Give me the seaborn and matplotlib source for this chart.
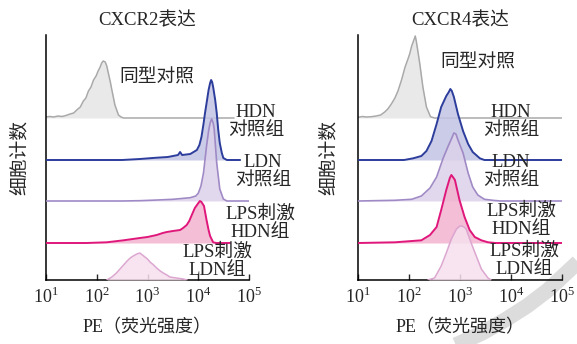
import numpy as np
import matplotlib.pyplot as plt
import seaborn as sns
from matplotlib.lines import Line2D

# ---- data: log10(PE) positions and cell counts ----
# CXCR2 panel
cxcr2_iso_x = [1.00, 1.08, 1.16, 1.24, 1.32, 1.40, 1.48, 1.55, 1.61, 1.68, 1.74, 1.79, 1.84, 1.89, 1.94,
               1.99, 2.03, 2.07, 2.10, 2.13, 2.17, 2.20, 2.23, 2.27, 2.30, 2.36, 2.43, 2.48, 2.53, 4.70]
cxcr2_iso_y = [1, 1.5, 1, 2, 1.5, 2.5, 4, 5, 8, 11, 17, 20, 27, 31, 38,
               42, 47, 51, 55, 57, 56, 52, 45, 36, 28, 13, 3, 1, 0, 0]

cxcr2_hdn_x = [1.00, 2.50, 2.85, 3.18, 3.40, 3.50, 3.60, 3.64, 3.68, 3.84, 3.97, 4.02, 4.06, 4.10, 4.13,
               4.17, 4.20, 4.23, 4.25, 4.27, 4.29, 4.33, 4.36, 4.39, 4.42, 4.46, 4.49, 4.56, 4.82]
cxcr2_hdn_y = [0, 0, 1, 2.3, 3, 4, 5, 8, 5, 6, 10, 15, 23, 36, 47,
               60, 70, 77, 80, 78, 73, 60, 47, 30, 17, 7, 2, 0, 0]

cxcr2_ldn_x = [1.00, 2.50, 2.85, 3.20, 3.50, 3.84, 3.95, 4.00, 4.05, 4.10, 4.16, 4.20, 4.23, 4.26, 4.29,
               4.31, 4.36, 4.42, 4.49, 4.56, 5.00]
cxcr2_ldn_y = [0, 0, 0.3, 1, 1.7, 3.3, 5, 8, 15, 28, 55, 70, 78, 82, 78,
               72, 38, 12, 2, 0, 0]

cxcr2_lps_hdn_x = [1.00, 1.80, 2.20, 2.53, 2.85, 3.00, 3.18, 3.30, 3.38, 3.50, 3.64, 3.70, 3.77, 3.82, 3.87,
                   3.93, 4.00, 4.03, 4.06, 4.11, 4.16, 4.20, 4.23, 4.29, 4.35, 4.62]
cxcr2_lps_hdn_y = [0, 0, 0.7, 2.7, 5, 6, 8, 10, 11, 12, 13, 15, 18, 22, 28,
                   35, 40, 42, 41, 37, 23, 13, 7, 0.7, 0, 0]

cxcr2_lps_ldn_x = [2.20, 2.30, 2.39, 2.46, 2.53, 2.60, 2.66, 2.72, 2.79, 2.85, 2.90, 2.95, 3.00, 3.05, 3.12,
                   3.18, 3.25, 3.31, 3.38, 3.44, 3.57, 3.70, 3.78]
cxcr2_lps_ldn_y = [0, 3, 7, 11, 15, 19, 22, 24, 26, 27, 25, 23, 21, 18, 15,
                   12, 9, 7, 5, 3, 2, 1, 0]

# CXCR4 panel
cxcr4_iso_x = [1.00, 1.08, 1.16, 1.26, 1.35, 1.44, 1.52, 1.58, 1.65, 1.72, 1.78, 1.85, 1.92, 1.97, 2.01,
               2.05, 2.10, 2.12, 2.14, 2.18, 2.21, 2.27, 2.34, 2.42, 2.50, 5.00]
cxcr4_iso_y = [0.7, 1.5, 1, 1.3, 2, 3, 6, 9, 14, 20, 27, 38, 51, 58, 64,
               72, 79, 82, 77, 64, 54, 31, 11, 1.3, 0, 0]

cxcr4_hdn_x = [1.00, 1.90, 2.08, 2.24, 2.34, 2.44, 2.54, 2.63, 2.73, 2.78, 2.81, 2.84, 2.88, 2.96, 3.06,
               3.16, 3.25, 3.39, 3.48, 5.00]
cxcr4_hdn_y = [0, 0, 1.7, 4, 9, 19, 36, 53, 64, 68, 71, 69, 63, 46, 29,
               16, 8, 1.7, 0, 0]

cxcr4_ldn_x = [1.00, 1.72, 2.05, 2.24, 2.41, 2.54, 2.67, 2.76, 2.83, 2.88, 2.92, 2.96, 3.06, 3.16, 3.25,
               3.35, 3.48, 3.68, 3.80, 5.00]
cxcr4_ldn_y = [0, 0.7, 1.7, 5, 13, 24, 43, 54, 62, 68, 67, 61, 48, 28, 14,
               6, 1.7, 0.5, 0, 0]

cxcr4_lps_hdn_x = [1.00, 1.72, 2.24, 2.41, 2.54, 2.63, 2.73, 2.80, 2.83, 2.86, 2.90, 2.99, 3.09, 3.19, 3.29,
                   3.42, 3.55, 3.70, 5.00]
cxcr4_lps_hdn_y = [0, 0.7, 2.7, 8, 16, 33, 53, 65, 68, 66, 63, 43, 26, 13, 6,
                   2.7, 0.7, 0, 0]

cxcr4_lps_ldn_x = [2.37, 2.50, 2.63, 2.73, 2.83, 2.93, 3.00, 3.03, 3.08, 3.12, 3.22, 3.32, 3.42, 3.55, 3.61]
cxcr4_lps_ldn_y = [0, 2, 14, 27, 41, 51, 54, 54, 53, 51, 37, 24, 11, 2, 0]

group_labels = ["同型对照", "HDN\n对照组", "LDN\n对照组", "LPS刺激\nHDN组", "LPS刺激\nLDN组"]
panel_titles = ["CXCR2表达", "CXCR4表达"]
tick_exps = [1, 2, 3, 4, 5]

# ---- styling / layout ----
line_colors = ["#a9a9a9", "#2c3d9c", "#a08ac6", "#e0177b", "#dca6d0"]
fill_colors = ["#e6e6e6", "#c2c3e3", "#dcd2ea", "#f1b3cf", "#f6e0ee"]
line_widths = [1.1, 1.4, 1.2, 1.4, 1.1]
stack_offsets = [162, 120, 79, 37, 0]   # baseline of each histogram in the stack

left_label_pos = [(3.19, 202), (5.13, 158), (5.27, 108), (5.21, 57), (4.37, 19)]
right_label_pos = [(3.35, 217), (4.00, 158), (4.00, 108), (4.20, 60), (4.27, 20)]

sns.set_style("ticks")
plt.rcParams['font.family'] = ['Liberation Serif', 'Noto Sans CJK SC']
plt.rcParams['mathtext.fontset'] = 'custom'
plt.rcParams['mathtext.rm'] = 'Liberation Serif'

fig = plt.figure(figsize=(5.77, 3.44), dpi=100)
ax_l = fig.add_axes([45.7 / 577, 64 / 344, 203.6 / 577, 245 / 344])
ax_r = fig.add_axes([358.3 / 577, 64 / 344, 203.4 / 577, 245 / 344])

# faint watermark stroke at bottom right of the original (pixel coords, y down)
wm_px = [(595, 246), (577, 263), (548, 290), (527, 306), (505, 320), (482, 333), (458, 344), (440, 352)]
fig.add_artist(Line2D([x / 577 for x, y in wm_px], [1 - y / 344 for x, y in wm_px],
                      transform=fig.transFigure, color='#dcdcdc', lw=11,
                      solid_capstyle='butt', solid_joinstyle='round', zorder=-5))

panels = [
    (ax_l, [(cxcr2_iso_x, cxcr2_iso_y), (cxcr2_hdn_x, cxcr2_hdn_y), (cxcr2_ldn_x, cxcr2_ldn_y),
            (cxcr2_lps_hdn_x, cxcr2_lps_hdn_y), (cxcr2_lps_ldn_x, cxcr2_lps_ldn_y)], left_label_pos, 12),
    (ax_r, [(cxcr4_iso_x, cxcr4_iso_y), (cxcr4_hdn_x, cxcr4_hdn_y), (cxcr4_ldn_x, cxcr4_ldn_y),
            (cxcr4_lps_hdn_x, cxcr4_lps_hdn_y), (cxcr4_lps_ldn_x, cxcr4_lps_ldn_y)], right_label_pos, 15),
]

for p, (ax, series, label_pos, ypad) in enumerate(panels):
    ax.set_xscale('log')
    ax.set_facecolor('none')
    for i, (lx, cnt) in enumerate(series):
        pe = 10 ** np.array(lx)
        top = stack_offsets[i] + np.array(cnt, dtype=float)
        ax.fill_between(pe, stack_offsets[i], top, color=fill_colors[i], alpha=0.85, lw=0, zorder=2 + i)
        sns.lineplot(x=pe, y=top, ax=ax, color=line_colors[i], linewidth=line_widths[i],
                     estimator=None, sort=False, zorder=2.5 + i)
    for i, (lx, ly) in enumerate(label_pos):
        ax.text(10 ** lx, ly, group_labels[i], ha='center', va='center', fontsize=13.5,
                linespacing=1.12, zorder=10)

    ax.set_xlim(10, 1e5)
    ax.set_ylim(0, 245)
    ax.set_yticks([])
    ax.set_xticks([10.0 ** e for e in tick_exps])
    ax.set_xticklabels([f"$10^{{{e}}}$" for e in tick_exps])
    ax.minorticks_off()
    ax.tick_params(axis='x', direction='in', length=4, width=1, pad=5, labelsize=13)
    for s in ['top', 'right']:
        ax.spines[s].set_visible(False)
    for s in ['left', 'bottom']:
        ax.spines[s].set_linewidth(1.1)
        ax.spines[s].set_color('black')
    ax.set_title(panel_titles[p], fontsize=13.5, pad=7)
    ax.set_xlabel("PE（荧光强度）", fontsize=13, labelpad=9)
    ax.set_ylabel("细胞计数", fontsize=13.5, labelpad=ypad)

fig.savefig("out.png", dpi=100)
